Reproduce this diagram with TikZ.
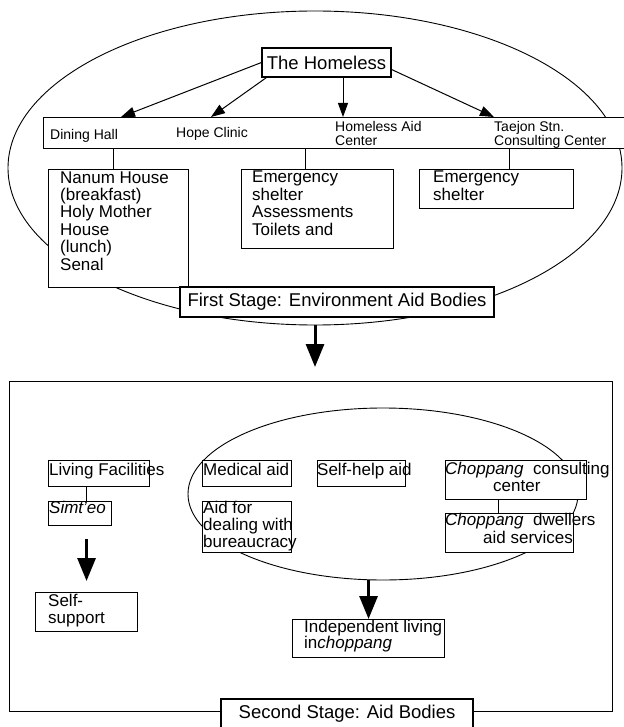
\documentclass[tikz,border=0pt]{standalone}
\usepackage{fontspec}
\setmainfont{Liberation Sans}
\usetikzlibrary{arrows.meta,shapes.geometric}

\begin{document}
\begin{tikzpicture}[x=1pt, y=-1pt,
    box/.style={draw, line width=1.1pt, fill=white, inner sep=0pt, anchor=north west},
    oval/.style={draw, ellipse, line width=0.9pt, inner sep=0pt},
    txt/.style={anchor=base west, inner sep=0pt, align=left, font=\fontsize{17}{17.4}\selectfont},
    rowtxt/.style={txt, font=\fontsize{14}{14}\selectfont},
    headtxt/.style={font=\fontsize{18.5}{18.5}\selectfont},
    thin arrow/.style={-{Triangle[length=14pt,width=10pt]}, line width=1pt},
    fat arrow/.style={-{Triangle[length=23pt,width=18pt]}, line width=3pt}]
    \useasboundingbox (0,0) rectangle (623,727);

    % First stage (text nodes sit on the baseline of their last line)
    \node[oval, minimum width=614pt, minimum height=314pt] (envoval) at (315,168) {};
    \node[box, line width=1.3pt, minimum width=581pt, minimum height=31pt] (bodies) at (43,117) {};
    \node[box, anchor=center, headtxt, minimum width=129pt, minimum height=29pt] (homeless) at (326.5,62.5) {The Homeless};

    \node[rowtxt] (dining) at (50,140) {Dining Hall};
    \node[rowtxt] (hope) at (176,138) {Hope Clinic};
    \node[rowtxt] (aidcenter) at (335,146) {Homeless Aid\\Center};
    \node[rowtxt] (taejon) at (494,146) {Taejon Stn.\\Consulting Center};

    \draw[thin arrow] (homeless.west) -- ([xshift=78pt]bodies.north west);
    \draw[thin arrow] ([xshift=5pt]homeless.south west) -- ([xshift=168pt]bodies.north west);
    \draw[thin arrow] ([xshift=16.5pt]homeless.south) -- ([xshift=16.5pt]homeless.south |- bodies.north);
    \draw[thin arrow] ([yshift=-7pt]homeless.east) -- ([xshift=451pt]bodies.north west);

    \node[box, minimum width=140pt, minimum height=118pt] (nanum) at (48,169) {};
    \node[box, minimum width=152pt, minimum height=79pt] (shelterA) at (241,169) {};
    \node[box, minimum width=154pt, minimum height=39pt] (shelterB) at (419,169) {};
    \foreach \b/\s in {nanum/-5, shelterA/-12, shelterB/13}
        \draw[line width=1pt] ([xshift=\s pt]\b.north) -- ([xshift=\s pt]\b.north |- bodies.south);

    \node[txt] (nanumtxt) at (60,270) {Nanum House\\(breakfast)\\Holy Mother\\House\\(lunch)\\Senal};
    \node[txt] (shelterAtxt) at (252,235.2) {Emergency\\shelter\\Assessments\\Toilets and};
    \node[txt] (shelterBtxt) at (433,200.4) {Emergency\\shelter};

    \node[box, anchor=center, headtxt, minimum width=314pt, minimum height=30pt] (stageone) at (337,302) {First Stage: Environment Aid Bodies};

    % Second stage
    \node[box, minimum width=603pt, minimum height=330pt] (aidframe) at (9,381) {};
    \draw[fat arrow, shorten >=14pt] (envoval.south) -- (envoval.south |- aidframe.north);
    \node[oval, minimum width=390pt, minimum height=172pt] (aidoval) at (383,494) {};

    \node[box, minimum width=101pt, minimum height=26pt] (living) at (48,460) {};
    \node[box, minimum width=63pt, minimum height=24pt] (simteo) at (48,501) {};
    \node[box, minimum width=89pt, minimum height=26pt] (medical) at (202,460) {};
    \node[box, minimum width=89pt, minimum height=51pt] (bureau) at (202,501) {};
    \node[box, minimum width=88pt, minimum height=26pt] (selfhelp) at (317,460) {};
    \node[box, minimum width=141pt, minimum height=39pt] (consult) at (445,460) {};
    \node[box, minimum width=128pt, minimum height=39pt] (dwellers) at (445,513) {};
    \node[box, minimum width=102pt, minimum height=39pt] (selfsup) at (35,592) {};
    \node[box, minimum width=152pt, minimum height=38pt] (indep) at (292,619) {};

    \node[txt] (livingtxt) at (49,475) {Living Facilities};
    \node[txt] (simteotxt) at (49,513) {\emph{Simt'eo}};
    \node[txt] (medicaltxt) at (203,475) {Medical aid};
    \node[txt, font=\fontsize{17}{17}\selectfont] (bureautxt) at (203,547) {Aid for\\dealing with\\bureaucracy};
    \node[txt] (selfhelptxt) at (317,475) {Self-help aid};
    \node[txt, font=\fontsize{17}{17}\selectfont] (consulttxt) at (445,491) {\emph{Choppang}\ \ consulting\\\hspace*{48pt}center};
    \node[txt, font=\fontsize{17}{18}\selectfont] (dwellerstxt) at (445,543) {\emph{Choppang}\ \ dwellers\\\hspace*{38pt}aid services};
    \node[txt, font=\fontsize{17}{17}\selectfont] (selfsuptxt) at (48,623) {Self-\\support};
    \node[txt, font=\fontsize{17}{16}\selectfont] (indeptxt) at (304,648) {Independent living\\in\emph{choppang}};

    \draw[line width=1pt] ([xshift=6.5pt]simteo.north) -- ([xshift=6.5pt]simteo.north |- living.south);
    \draw[line width=1pt] ([xshift=-11pt]dwellers.north) -- ([xshift=-11pt]dwellers.north |- consult.south);

    \draw[fat arrow, shorten <=13pt, shorten >=11pt] (simteo.south -| selfsup.north) -- (selfsup.north);
    \draw[fat arrow] (indep.north |- aidoval.south) -- (indep.north);

    \node[box, anchor=center, headtxt, minimum width=252pt, minimum height=30pt] (stagetwo) at (347,714) {Second Stage: Aid Bodies};
\end{tikzpicture}
\end{document}
